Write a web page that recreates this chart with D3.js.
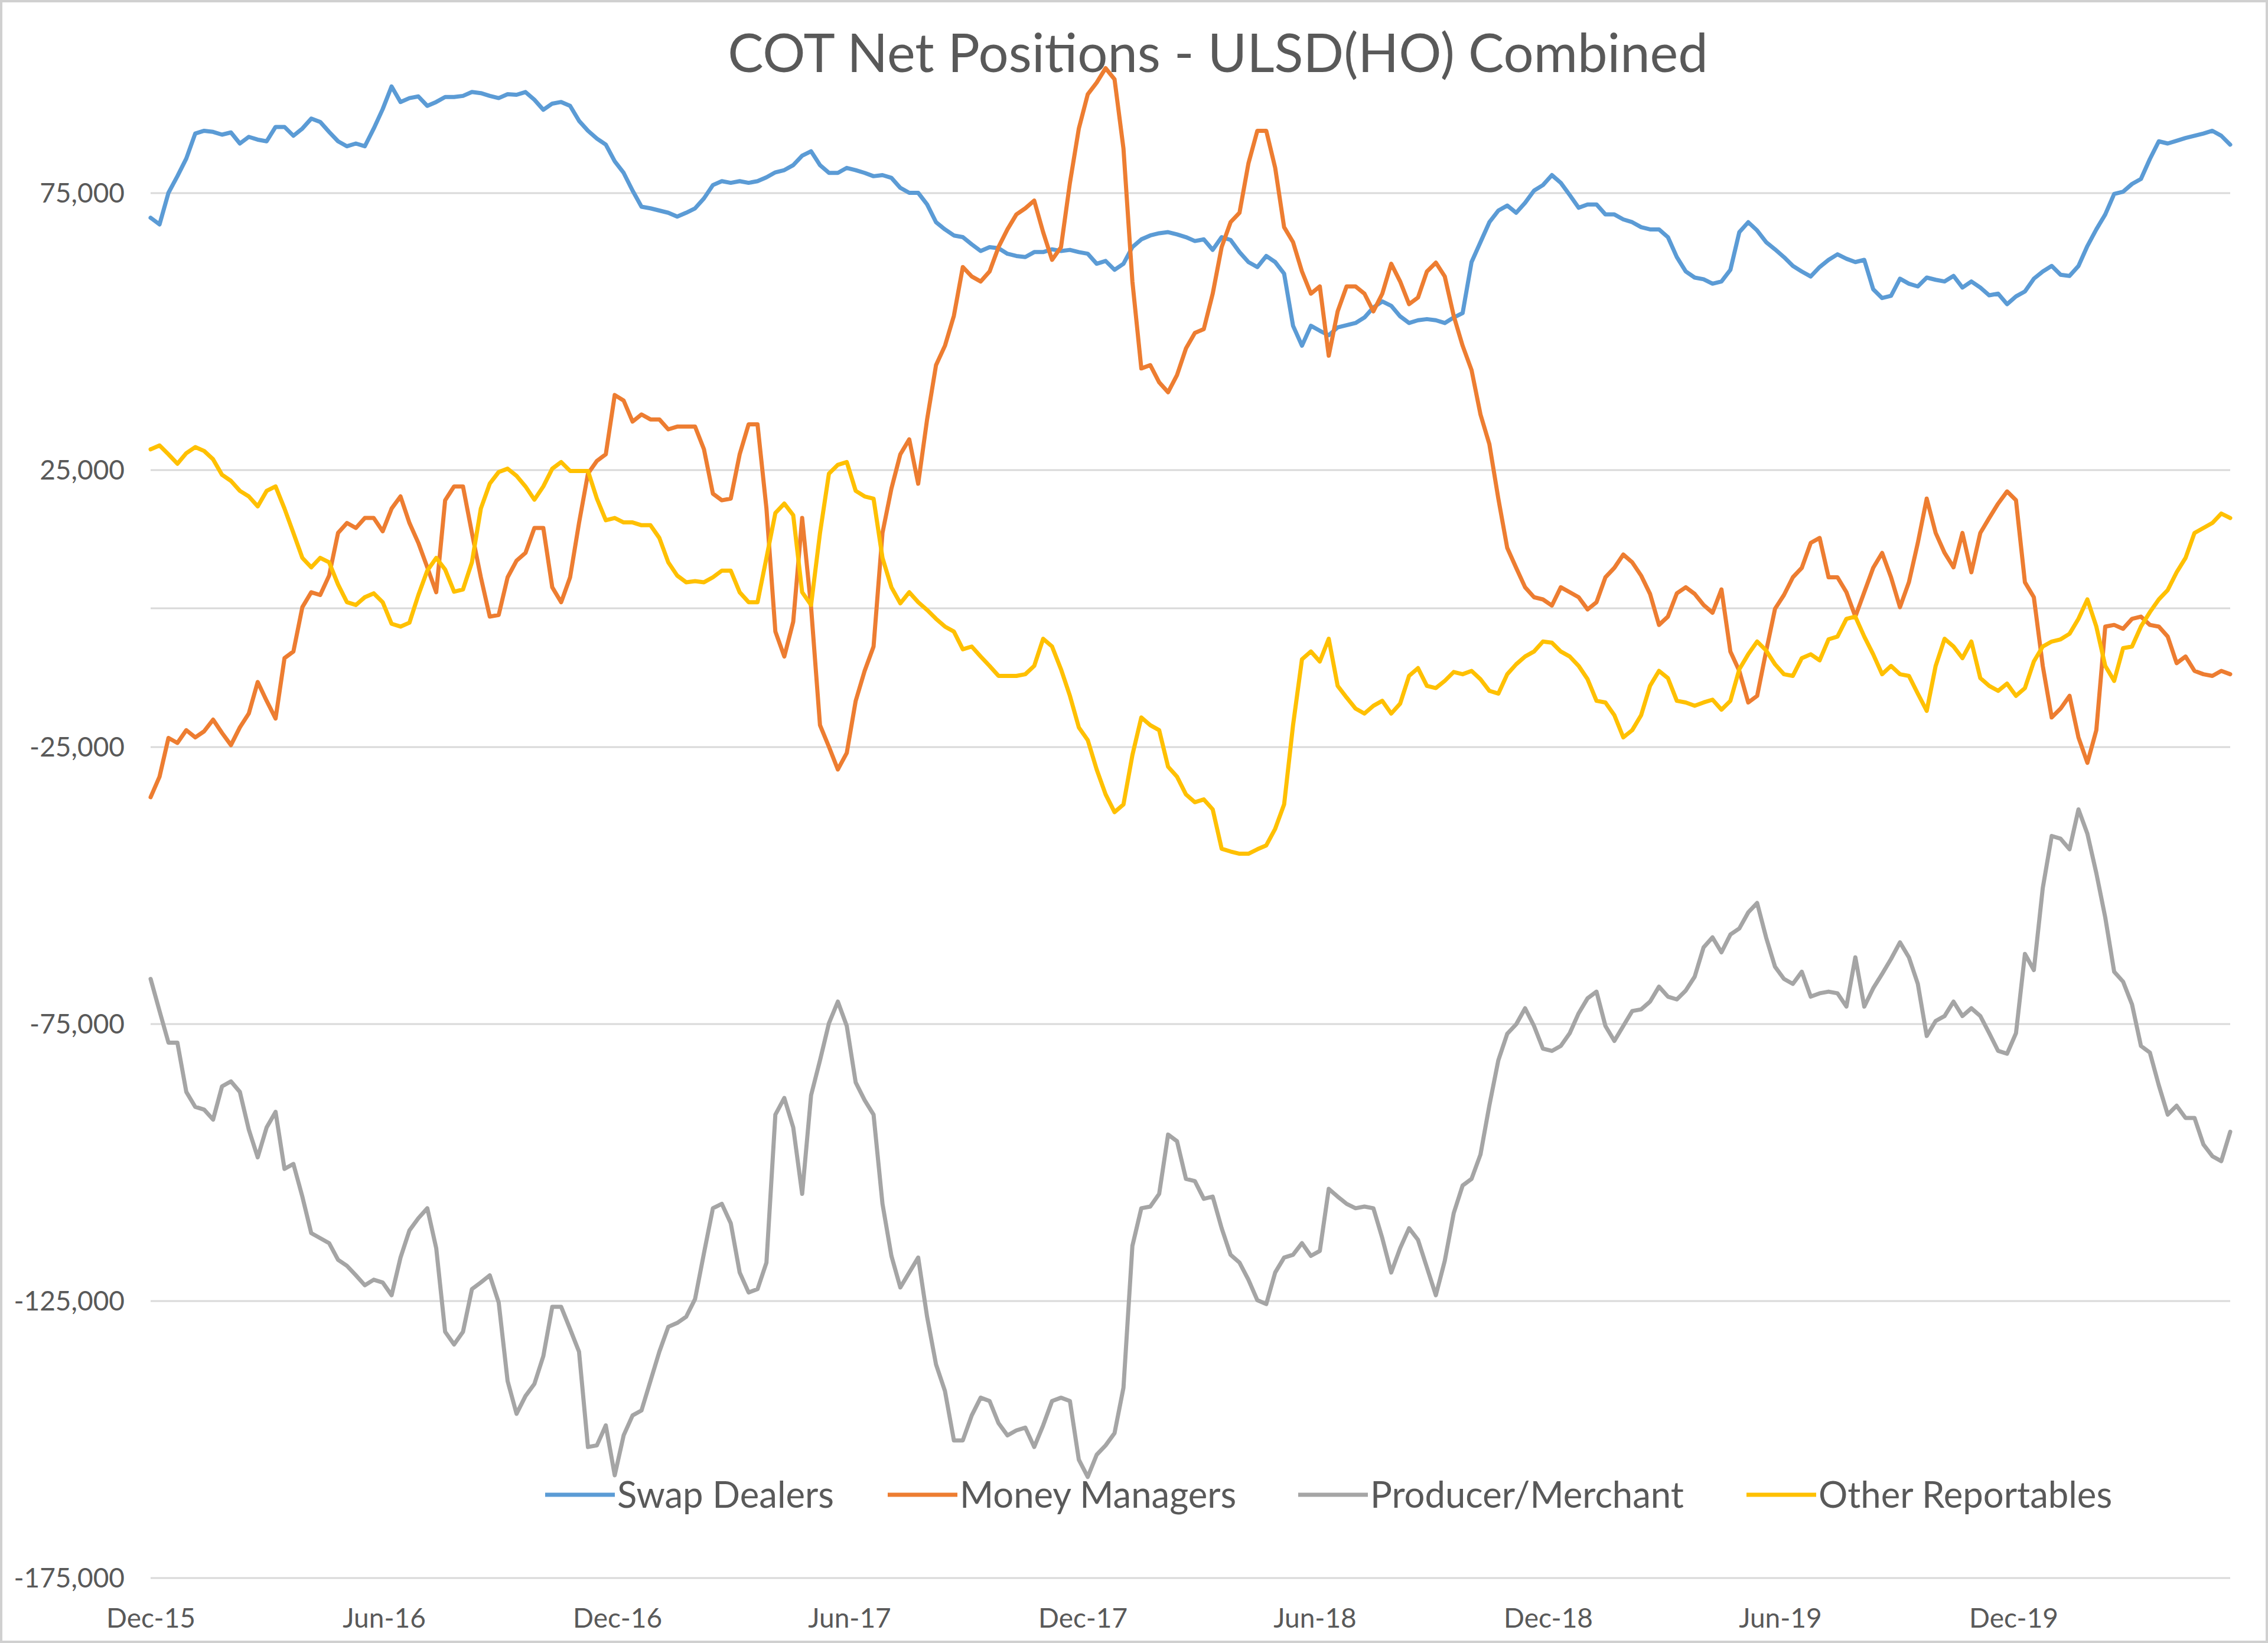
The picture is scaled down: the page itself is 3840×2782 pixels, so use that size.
<!DOCTYPE html>
<html><head><meta charset="utf-8">
<script src="https://cdn.jsdelivr.net/npm/d3@7"></script>
<style>html,body{margin:0;padding:0;background:#fff;} svg{display:block;}</style>
</head><body>
<svg id="chart" width="3840" height="2782"></svg>
<script>
// ---------------- DATA ----------------
const chartTitle = "COT Net Positions - ULSD(HO) Combined";
const firstReportDate = "2015-12-01";   // weekly COT reports (Tuesdays)
const lastReportDate  = "2020-05-19";
const seriesNames  = ["Swap Dealers", "Money Managers", "Producer/Merchant", "Other Reportables"];
const seriesColors = ["#5B9BD5", "#ED7D31", "#A5A5A5", "#FFC000"];

const swapDealers = [70500,69300,75000,78000,81200,85700,86200,86000,85500,85900,83900,85100,84600,84300,86900,86900,85300,86600,88400,87800,86000,84300,83400,83900,83400,86600,90100,94200,91400,92100,92400,90700,91400,92300,
92300,92500,93200,93000,92500,92100,92800,92700,93200,91800,90000,91100,91400,90700,88000,86200,84800,83700,80700,78600,75400,72500,72200,71800,71400,70700,71400,72200,74000,76400,77100,76800,77100,
76800,77100,77800,78700,79100,80000,81700,82500,80000,78600,78600,79500,79100,78600,78000,78200,77700,75900,75000,75000,72900,69700,68400,67300,67000,65700,64500,65200,65000,64000,63600,63400,64300,
64300,64800,64500,64700,64300,64000,62200,62700,61100,62200,65200,66600,67300,67700,67900,67500,67000,66300,66600,64700,67000,66500,64300,62500,61600,63600,62500,60400,51000,47400,51000,50100,49300,50700,
51100,51500,52500,54300,55400,54600,52700,51500,52000,52200,52000,51500,52500,53300,62500,66100,69700,71800,72700,71400,73200,75400,76400,78200,76800,74600,72300,72900,72900,71100,71100,70200,69700,
68800,68400,68400,67000,63400,60800,59700,59400,58600,59000,61100,67900,69700,68200,66100,64800,63400,61800,60800,59900,61600,62900,63900,63100,62500,62900,57600,56000,56400,59500,58600,58100,59700,59300,
59000,60000,57900,59000,57900,56500,56800,54900,56300,57200,59500,60800,61800,60200,60000,61800,65400,68400,71100,74800,75200,76600,77500,81100,84300,83900,84400,84900,85300,85700,86200,85300,83700];

const moneyManagers = [-34100,-30400,-23400,-24300,-22000,-23300,-22200,-20100,-22500,-24700,-21500,-19000,-13300,-16700,-19900,-9000,-7800,200,2900,2400,5900,13600,15400,14500,16300,16300,13900,18000,20200,15400,11800,7400,2900,19500,
22000,22000,13600,5600,-1500,-1200,5600,8600,10000,14500,14500,3800,1100,5600,15400,24300,26600,27800,38500,37500,33700,35000,34100,34100,32300,32800,32800,32800,28700,20700,19500,19800,27800,
33200,33200,18000,-4200,-8700,-2400,16300,200,-21100,-25000,-29100,-26100,-16700,-11300,-6900,13600,21600,27800,30500,22500,34100,43900,47400,52800,61600,59900,59000,60800,65200,68400,71100,72200,73600,
67900,62900,65200,76800,86600,92800,94900,97500,95500,83000,59000,43300,43900,40800,39000,42100,46900,49700,50400,56800,65200,69700,71400,80300,86200,86200,79500,68800,66100,60800,56800,58100,45600,53600,
58100,58100,56800,53600,56800,62200,59000,54900,56100,60800,62400,59900,52800,47400,43000,35000,29600,19800,10900,7300,3800,2000,1600,500,3800,2900,2000,-200,1100,5600,7300,9700,8300,
5900,2600,-3000,-1500,2700,3800,2600,600,-800,3400,-7800,-11300,-17000,-15800,-7800,-100,2400,5600,7300,11800,12700,5600,5600,2900,-1500,2900,7300,10000,5600,200,4700,11800,19800,13600,
10000,7400,13600,6500,13600,16300,18900,21100,19500,4700,2000,-10400,-19700,-18100,-15800,-23300,-27900,-22000,-3300,-3000,-3700,-1900,-1500,-3000,-3300,-5100,-9900,-8700,-11300,-11900,-12200,-11300,-11900];

const producerMerchant = [-66900,-72700,-78400,-78400,-87300,-90000,-90500,-92300,-86300,-85400,-87300,-94100,-99100,-93700,-90900,-101200,-100300,-106200,-112800,-113700,-114600,-117600,-118700,-120400,-122200,-121200,-121700,-124000,-117200,-112300,-110100,-108300,-115500,-130600,
-132900,-130600,-122900,-121700,-120400,-125300,-139500,-145400,-142200,-140000,-135000,-126100,-126100,-130100,-134200,-151400,-151100,-147500,-156500,-149300,-145700,-144800,-139500,-134200,-129700,-129000,-127900,-124700,-116400,-108300,-107500,-111000,-119900,
-123500,-122900,-118100,-91400,-88400,-93700,-105700,-87900,-81600,-74900,-71000,-75400,-85600,-88800,-91400,-107500,-116900,-122600,-119900,-117200,-127900,-136500,-141300,-150200,-150200,-145700,-142500,-143100,-147100,-149300,-148400,-147900,-151400,
-147500,-143100,-142500,-143100,-153700,-156800,-152800,-151100,-148900,-140700,-115100,-108300,-108000,-105700,-95000,-96200,-103000,-103400,-106600,-106200,-111900,-116700,-118100,-121200,-124900,-125600,-119900,-117200,-116700,-114600,-116900,-116000,-104800,-106200,
-107500,-108300,-108000,-108300,-113700,-119900,-115500,-111900,-114000,-119000,-124000,-117800,-109200,-104200,-103000,-98600,-89700,-81600,-76800,-75100,-72200,-75400,-79500,-79900,-79000,-76700,-73100,-70400,-69200,-75400,-78100,-75400,-72700,
-72400,-71000,-68300,-70100,-70600,-69000,-66500,-61200,-59400,-62100,-58900,-57800,-54900,-53200,-59400,-64700,-66900,-67800,-65600,-70100,-69500,-69200,-69500,-71900,-63000,-71900,-68600,-66000,-63300,-60300,-63000,-67800,-77200,-74500,
-73600,-71000,-73600,-72200,-73600,-76700,-79900,-80400,-76700,-62400,-65300,-50500,-41100,-41600,-43500,-36300,-40700,-47800,-55800,-65600,-67400,-71500,-79000,-80200,-86100,-91400,-89800,-92000,-92000,-96800,-98900,-99800,-94500];

const otherReportables = [28700,29400,27800,26100,28000,29100,28400,26900,24100,23000,21200,20200,18400,21200,22000,18000,13600,9100,7400,9100,8300,4300,1100,600,2000,2700,1100,-2800,-3300,-2600,2400,6800,9100,7000,
3000,3400,8300,18000,22500,24600,25200,23900,22000,19600,22000,25200,26400,24800,24800,24800,19800,15900,16300,15500,15500,15000,15000,12700,8300,5900,4700,4900,4700,5600,6800,6800,2900,
1100,1100,9100,17200,18900,16800,2900,600,13600,24300,25900,26400,21200,20200,19800,9100,3800,900,2900,1100,-300,-1900,-3300,-4200,-7400,-6900,-8700,-10400,-12200,-12200,-12200,-11900,-10400,
-5500,-6900,-11000,-15800,-21500,-23800,-29100,-33600,-36800,-35400,-26500,-19700,-21100,-22000,-28600,-30400,-33600,-35000,-34500,-36300,-43400,-43900,-44300,-44300,-43500,-42800,-39800,-35400,-21100,-9200,-7800,-9600,-5500,-14000,
-16100,-18100,-19000,-17600,-16700,-19000,-17200,-12200,-10800,-14000,-14400,-13100,-11500,-11900,-11300,-12800,-14900,-15400,-11900,-10100,-8700,-7800,-6000,-6200,-7800,-8700,-10400,-12800,-16700,-17000,-19300,-23300,-22000,
-19300,-14000,-11300,-12600,-16700,-17000,-17600,-17000,-16500,-18300,-16700,-11000,-8300,-6000,-7600,-10100,-11900,-12200,-9000,-8300,-9400,-5600,-5100,-1900,-1500,-5100,-8300,-11900,-10400,-11900,-12200,-15400,-18500,-10400,
-5500,-6900,-9000,-6000,-12600,-14000,-14900,-13600,-15800,-14400,-9600,-6900,-6000,-5600,-4600,-1900,1600,-3300,-10400,-13100,-7200,-6900,-3300,-700,1600,3300,6500,9100,13600,14500,15400,17100,16300];

const yDomain = [-175000, 100000];
const yTickValues = [75000, 25000, -25000, -75000, -125000, -175000];
const xTickDates  = ["2015-12-01","2016-06-01","2016-12-01","2017-06-01","2017-12-01","2018-06-01","2018-12-01","2019-06-01","2019-12-01"];
const xTickLabels = ["Dec-15","Jun-16","Dec-16","Jun-17","Dec-17","Jun-18","Dec-18","Jun-19","Dec-19"];

// ---------------- LAYOUT ----------------
const W = 3840, H = 2782;
const plot = {left: 255, right: 3776, top: 92, bottom: 2671.5};
const textColor = "#595959";
const font = "Lato, 'Open Sans', sans-serif";

const svg = d3.select("#chart");
svg.append("rect").attr("x", 0).attr("y", 0).attr("width", W).attr("height", H).attr("fill", "#fff");
svg.append("rect").attr("x", 2).attr("y", 2).attr("width", W - 4).attr("height", H - 4)
   .attr("fill", "none").attr("stroke", "#D0D0D0").attr("stroke-width", 4);

const parse = d3.utcParse("%Y-%m-%d");
const start = parse(firstReportDate), end = parse(lastReportDate);
const dates = d3.range(swapDealers.length).map(i => d3.utcDay.offset(start, 7 * i));

const x = d3.scaleUtc().domain([start, end]).range([plot.left, plot.right]);
const y = d3.scaleLinear().domain(yDomain).range([plot.bottom, plot.top]);

// number format with ASCII hyphen as minus sign (as in the original)
const numFmt = d3.formatLocale({decimal: ".", thousands: ",", grouping: [3], currency: ["", ""], minus: "-"}).format(",");

// gridlines + y labels
const yAxis = d3.axisLeft(y).tickValues(yTickValues).tickSize(-(plot.right - plot.left))
  .tickFormat(numFmt).tickPadding(44);
const gy = svg.append("g").attr("transform", `translate(${plot.left},0)`).call(yAxis);
gy.select(".domain").remove();
gy.selectAll(".tick line").attr("stroke", "#D9D9D9").attr("stroke-width", 3);
gy.selectAll(".tick text").attr("fill", textColor).attr("font-family", font).attr("font-size", 46)
  .attr("dy", "0.35em");

// horizontal (category) axis line at zero, labels at bottom
svg.append("line").attr("x1", plot.left).attr("x2", plot.right)
  .attr("y1", y(0)).attr("y2", y(0)).attr("stroke", "#D9D9D9").attr("stroke-width", 3);

const xAxis = d3.axisBottom(x).tickValues(xTickDates.map(parse))
  .tickFormat((d, i) => xTickLabels[i]).tickSize(0).tickPadding(0);
const gx = svg.append("g").attr("transform", `translate(0,${plot.bottom})`).call(xAxis);
gx.select(".domain").remove();
gx.selectAll(".tick text").attr("fill", textColor).attr("font-family", font).attr("font-size", 46)
  .attr("dy", 0).attr("y", 84);

// lines
const allSeries = [swapDealers, moneyManagers, producerMerchant, otherReportables];
const line = d3.line().x((d, i) => x(dates[i])).y(d => y(d));
allSeries.forEach((vals, k) => {
  svg.append("path").datum(vals).attr("d", line).attr("fill", "none")
    .attr("stroke", seriesColors[k]).attr("stroke-width", 7)
    .attr("stroke-linejoin", "round").attr("stroke-linecap", "round");
});

// title
const title = svg.append("text").attr("x", 2062).attr("y", 122).attr("text-anchor", "middle")
  .attr("fill", textColor).attr("font-family", font).attr("font-size", 94).text(chartTitle);
(function fit(sel, target) {
  const w = sel.node().getComputedTextLength();
  sel.attr("font-size", parseFloat(sel.attr("font-size")) * target / w);
})(title, 1660);

// legend
const legendX = [923, 1503, 2198, 2957];
const legendY = 2531;
const lg = svg.append("g");
const probe = lg.append("text").attr("font-family", font).attr("font-size", 60).text(seriesNames[0]);
const legendFont = 60 * 367 / probe.node().getComputedTextLength();
probe.remove();
seriesNames.forEach((name, k) => {
  lg.append("line").attr("x1", legendX[k]).attr("x2", legendX[k] + 118)
    .attr("y1", legendY).attr("y2", legendY).attr("stroke", seriesColors[k]).attr("stroke-width", 7);
  lg.append("text").attr("x", legendX[k] + 122).attr("y", legendY).attr("dy", "0.35em")
    .attr("fill", textColor).attr("font-family", font).attr("font-size", legendFont).text(name);
});
</script>
</body></html>
